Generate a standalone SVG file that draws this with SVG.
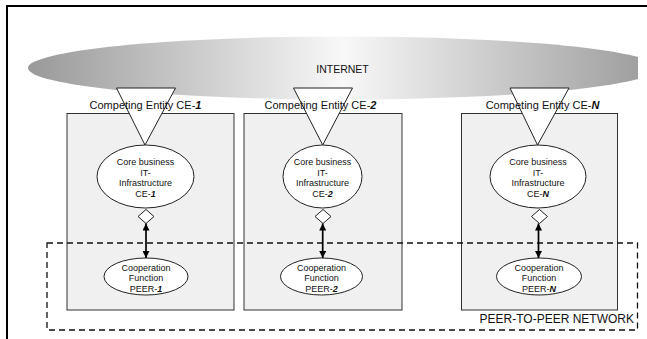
<svg xmlns="http://www.w3.org/2000/svg" width="647" height="339" viewBox="0 0 647 339">
<style>
text{font-family:"Liberation Sans",Arial,sans-serif;fill:#111}
.lbl{font-size:11px;text-anchor:middle}
.sm{font-size:9px;text-anchor:middle}
.box{fill:#f0f0f0;stroke:#333;stroke-width:1}
.tri{fill:#fff;stroke:#222;stroke-width:1}
.ell{fill:#fff;stroke:#222;stroke-width:1}
.dia{fill:#fff;stroke:#222;stroke-width:1}
.b{font-weight:bold;font-style:italic}
.arr{stroke:#000;stroke-width:1.7;fill:none;marker-start:url(#ah);marker-end:url(#ah)}
</style>
<defs>
<linearGradient id="ig" x1="0" y1="0" x2="1" y2="0">
<stop offset="0" stop-color="#999"/>
<stop offset="0.5" stop-color="#f8f8f8"/>
<stop offset="1" stop-color="#9a9a9a"/>
</linearGradient>
<clipPath id="clipR"><rect x="0" y="0" width="638" height="339"/></clipPath>
<marker id="ah" viewBox="0 0 10 10" refX="10" refY="5" markerWidth="10" markerHeight="7" markerUnits="userSpaceOnUse" orient="auto-start-reverse">
<path d="M0,0 L10,5 L0,10 z" fill="#000"/>
</marker>
</defs>
<rect width="647" height="339" fill="#fff"/>
<path d="M7,339 V6 H647" fill="none" stroke="#000" stroke-width="2"/>
<g id="internet">
<ellipse cx="343" cy="68" rx="315" ry="31.5" fill="url(#ig)" clip-path="url(#clipR)"/>
<text x="342.5" y="73" style="font-size:10.5px;text-anchor:middle">INTERNET</text>
</g>
<g id="ce1">
<rect class="box" x="67" y="113.5" width="167" height="196.5"/>
<polygon class="tri" points="116.5,88 175.5,88 145,145"/>
<text class="lbl" x="145.5" y="109">Competing Entity CE-<tspan class="b">1</tspan></text>
</g>
<g id="ce2">
<rect class="box" x="244" y="113.5" width="158" height="196.5"/>
<polygon class="tri" points="293.5,88 352.5,88 322.7,145"/>
<text class="lbl" x="320.5" y="109">Competing Entity CE-<tspan class="b">2</tspan></text>
</g>
<g id="ceN">
<rect class="box" x="461.5" y="113.5" width="156" height="196.5"/>
<polygon class="tri" points="510,88 569,88 537.5,145"/>
<text class="lbl" x="542.5" y="109">Competing Entity CE-<tspan class="b">N</tspan></text>
</g>
<g id="p2p">
<rect x="47" y="243" width="590.5" height="87" fill="none" stroke="#111" stroke-width="1.3" stroke-dasharray="6,4"/>
<text x="634" y="322.5" style="font-size:12px;text-anchor:end">PEER-TO-PEER NETWORK</text>
</g>
<g id="core1">
<ellipse class="ell" cx="145.5" cy="176.5" rx="48.5" ry="31.5"/>
<text class="sm" x="145.5" y="165">Core business</text>
<text class="sm" x="145.5" y="175.5">IT-</text>
<text class="sm" x="145.5" y="186">Infrastructure</text>
<text class="sm" x="145.5" y="196.5">CE-<tspan class="b">1</tspan></text>
</g>
<g id="core2">
<ellipse class="ell" cx="322.5" cy="176.5" rx="39.5" ry="31.5"/>
<text class="sm" x="322.5" y="165">Core business</text>
<text class="sm" x="322.5" y="175.5">IT-</text>
<text class="sm" x="322.5" y="186">Infrastructure</text>
<text class="sm" x="322.5" y="196.5">CE-<tspan class="b">2</tspan></text>
</g>
<g id="coreN">
<ellipse class="ell" cx="538" cy="176.5" rx="48" ry="31.5"/>
<text class="sm" x="538" y="165">Core business</text>
<text class="sm" x="538" y="175.5">IT-</text>
<text class="sm" x="538" y="186">Infrastructure</text>
<text class="sm" x="538" y="196.5">CE-<tspan class="b">N</tspan></text>
</g>
<g id="coop1">
<ellipse class="ell" cx="146" cy="276.5" rx="42" ry="18.5"/>
<text class="sm" x="146" y="270.5">Cooperation</text>
<text class="sm" x="146" y="281">Function</text>
<text class="sm" x="146" y="291.5">PEER-<tspan class="b">1</tspan></text>
</g>
<g id="coop2">
<ellipse class="ell" cx="321.5" cy="276.5" rx="41" ry="18.5"/>
<text class="sm" x="321.5" y="270.5">Cooperation</text>
<text class="sm" x="321.5" y="281">Function</text>
<text class="sm" x="321.5" y="291.5">PEER-<tspan class="b">2</tspan></text>
</g>
<g id="coopN">
<ellipse class="ell" cx="539" cy="276.5" rx="42.5" ry="18.5"/>
<text class="sm" x="539" y="270.5">Cooperation</text>
<text class="sm" x="539" y="281">Function</text>
<text class="sm" x="539" y="291.5">PEER-<tspan class="b">N</tspan></text>
</g>
<g id="connectors">
<polygon class="dia" points="146,209.5 154,216.5 146,223.5 138,216.5"/>
<polygon class="dia" points="323,209.5 331,216.5 323,223.5 315,216.5"/>
<polygon class="dia" points="539.5,209.5 547.5,216.5 539.5,223.5 531.5,216.5"/>
<line class="arr" x1="146" y1="223.5" x2="146" y2="258"/>
<line class="arr" x1="322.7" y1="223.5" x2="322.7" y2="258"/>
<line class="arr" x1="538.5" y1="223.5" x2="538.5" y2="258"/>
</g>
</svg>
